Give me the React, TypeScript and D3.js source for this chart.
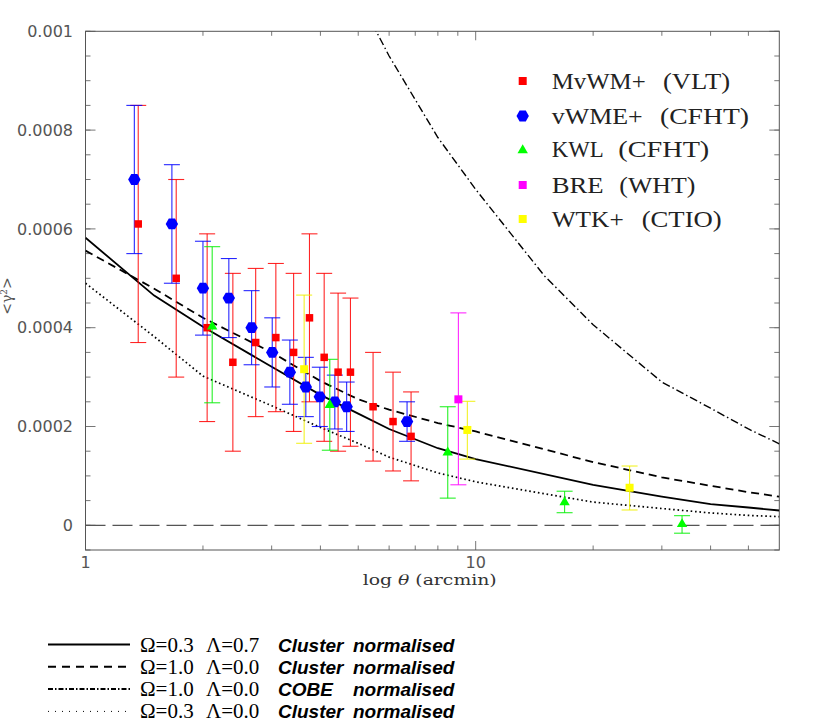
import React from "react";
import * as d3 from "d3";

// ---- data: [theta (arcmin), value, lower bound, upper bound]
const mvwm: number[][] = [
  [1.365, 0.00061, 0.00037, 0.00085],
  [1.708, 0.0005, 0.0003, 0.0007],
  [2.05, 0.0004, 0.00021, 0.00059],
  [2.386, 0.00033, 0.00015, 0.00051],
  [2.73, 0.00037, 0.00022, 0.00052],
  [3.075, 0.00038, 0.00023, 0.00053],
  [3.415, 0.00035, 0.00019, 0.00051],
  [3.75, 0.00042, 0.00025, 0.00059],
  [4.09, 0.00034, 0.00017, 0.00051],
  [4.44, 0.00031, 0.00015, 0.00047],
  [4.776, 0.00031, 0.00016, 0.00046],
  [5.458, 0.00024, 0.00013, 0.00035],
  [6.14, 0.00021, 0.00011, 0.00031],
  [6.83, 0.00018, 0.00009, 0.00027],
];
const vwme: number[][] = [
  [1.334, 0.0007, 0.00055, 0.00085],
  [1.665, 0.00061, 0.00049, 0.00073],
  [2.0, 0.00048, 0.000385, 0.000575],
  [2.33, 0.00046, 0.00038, 0.00054],
  [2.665, 0.0004, 0.000325, 0.000475],
  [3.01, 0.00035, 0.00028, 0.00042],
  [3.34, 0.00031, 0.000245, 0.000375],
  [3.67, 0.00028, 0.00022, 0.00034],
  [3.986, 0.00026, 0.0002, 0.00032],
  [4.355, 0.00025, 0.000195, 0.000304],
  [4.67, 0.00024, 0.00019, 0.00029],
  [6.67, 0.00021, 0.00017, 0.00025],
];
const kwl: number[][] = [
  [2.112, 0.000405, 0.000248, 0.000564],
  [4.228, 0.000246, 0.000152, 0.000336],
  [8.48, 0.00015, 0.000055, 0.00024],
  [16.9, 0.000049, 0.0000255, 0.000069],
  [33.8, 0.000005, -0.000016, 0.0000195],
];
const bre: number[][] = [[9.03, 0.000255, 0.000082, 0.00043]];
const wtk: number[][] = [
  [3.634, 0.000316, 0.000166, 0.000466],
  [9.52, 0.000193, 0.000134, 0.000251],
  [24.8, 0.000076, 0.000031, 0.00012],
];

// ---- model curves
const modelTheta = [1, 1.5, 2, 3, 4, 5, 6, 8, 10, 20, 30, 40, 50, 60];
const lcdmCluster = [0.000582, 0.000465, 0.000402, 0.000321, 0.000264, 0.000226, 0.000195, 0.000156, 0.000134, 0.000082, 0.000058, 0.000043, 0.000036, 0.00003];
const scdmCluster = [0.000556, 0.000479, 0.00042, 0.00035, 0.000292, 0.000255, 0.000234, 0.000207, 0.00019, 0.000128, 0.000097, 0.00008, 0.000067, 0.000058];
const ocdmCluster = [0.00049, 0.000382, 0.000302, 0.000242, 0.000198, 0.000166, 0.000138, 0.000106, 0.000088, 0.000047, 0.000034, 0.000025, 0.00002, 0.0000175];
const cobeTheta = [5, 6, 8, 10, 15, 20, 30, 40, 50, 60];
const scdmCobe = [0.00107, 0.00095, 0.000785, 0.00068, 0.000505, 0.000406, 0.00029, 0.000237, 0.000195, 0.000165];

const xMajor = [1, 10];
const xMinor = [2, 3, 4, 5, 6, 7, 8, 9, 20, 30, 40, 50];
const yMajor = [0, 0.0002, 0.0004, 0.0006, 0.0008, 0.001];
const yMajorLabels = ["0", "0.0002", "0.0004", "0.0006", "0.0008", "0.001"];
const yMinor = d3.range(-0.00005, 0.00100001, 0.00005);

const legendNames = ["MvWM+", "vWME+", "KWL", "BRE", "WTK+"];
const legendTels = ["(VLT)", "(CFHT)", "(CFHT)", "(WHT)", "(CTIO)"];

const modelLegend = [
  { om: "Ω=0.3", la: "Λ=0.7", a: "Cluster", b: "normalised" },
  { om: "Ω=1.0", la: "Λ=0.0", a: "Cluster", b: "normalised" },
  { om: "Ω=1.0", la: "Λ=0.0", a: "COBE", b: "normalised" },
  { om: "Ω=0.3", la: "Λ=0.0", a: "Cluster", b: "normalised" },
];

const W = 830, H = 724;
const L = 85.5, R = 779.3, T = 31.3, B = 550;
// legend layout
const legRowY = [81, 116, 149, 185, 219];
const legNameW = [94, 91, 52, 52, 72];
const legTelX = [663, 660, 618.3, 619.3, 641.7];
const legTelW = [67, 89, 91, 76, 80];

export default function App() {
  const x = d3.scaleLog().domain([1, 60]).range([L, R]);
  const y = d3.scaleLinear().domain([-0.00005, 0.001]).range([B, T]);
  const line = d3.line<[number, number]>().x((d) => x(d[0])).y((d) => y(d[1]));
  const mk = (ts: number[], vs: number[]) => line(ts.map((t, i) => [t, vs[i]]) as [number, number][]) || "";

  const axisCol = "#555";
  const tickCol = "#777";

  const sq = (cx: number, cy: number, s: number, fill: string, key?: any) => (
    <rect key={key} x={cx - s / 2} y={cy - s / 2} width={s} height={s} fill={fill} />
  );
  const hex = (cx: number, cy: number, key?: any) => {
    const rx = 6.2, ry = 5.4;
    const pts = [
      [cx - rx, cy], [cx - rx / 2, cy - ry], [cx + rx / 2, cy - ry],
      [cx + rx, cy], [cx + rx / 2, cy + ry], [cx - rx / 2, cy + ry],
    ].map((p) => p.join(",")).join(" ");
    return <polygon key={key} points={pts} fill="#0000ff" />;
  };
  const tri = (cx: number, cy: number, key?: any) => {
    const w = 5.2, h = 4.2;
    const pts = [[cx, cy - h - 0.5], [cx + w, cy + h], [cx - w, cy + h]].map((p) => p.join(",")).join(" ");
    return <polygon key={key} points={pts} fill="#00ff00" />;
  };

  const errBars = (data: number[][], col: string) =>
    data.map((d, i) => {
      const cx = x(d[0]);
      const y1 = y(d[2]), y2 = y(d[3]);
      return (
        <g key={i} stroke={col} strokeWidth={1.1} strokeOpacity={0.85}>
          <line x1={cx} x2={cx} y1={y1} y2={y2} />
          <line x1={cx - 8} x2={cx + 8} y1={y1} y2={y1} />
          <line x1={cx - 8} x2={cx + 8} y1={y2} y2={y2} />
        </g>
      );
    });

  return (
    <svg width={W} height={H} style={{ position: "absolute", left: 0, top: 0, background: "#fff" }}>
      <defs>
        <clipPath id="plotClip">
          <rect x={L} y={T} width={R - L} height={B - T} />
        </clipPath>
      </defs>

      {/* ticks */}
      <g stroke={tickCol} strokeWidth={1}>
        {xMajor.map((v) => (
          <g key={"xM" + v}>
            <line x1={x(v)} x2={x(v)} y1={B} y2={B - 9} />
            <line x1={x(v)} x2={x(v)} y1={T} y2={T + 9} />
          </g>
        ))}
        {xMinor.map((v) => (
          <g key={"xm" + v}>
            <line x1={x(v)} x2={x(v)} y1={B} y2={B - 4.5} />
            <line x1={x(v)} x2={x(v)} y1={T} y2={T + 4.5} />
          </g>
        ))}
        {yMinor.map((v, i) => (
          <g key={"ym" + i}>
            <line x1={L} x2={L + 5} y1={y(v)} y2={y(v)} />
            <line x1={R} x2={R - 5} y1={y(v)} y2={y(v)} />
          </g>
        ))}
        {yMajor.map((v) => (
          <g key={"yM" + v}>
            <line x1={L} x2={L + 10} y1={y(v)} y2={y(v)} />
            <line x1={R} x2={R - 10} y1={y(v)} y2={y(v)} />
          </g>
        ))}
      </g>
      <rect x={L} y={T} width={R - L} height={B - T} fill="none" stroke={axisCol} strokeWidth={1} />

      {/* tick labels */}
      <g fontFamily="DejaVu Sans" fontSize={16} fill="#555">
        {yMajor.map((v, i) => (
          <text key={"yl" + v} x={73} y={y(v)} dy="0.36em" textAnchor="end">
            {yMajorLabels[i]}
          </text>
        ))}
        {xMajor.map((v) => (
          <text key={"xl" + v} x={x(v)} y={568} textAnchor="middle">
            {v}
          </text>
        ))}
      </g>

      {/* axis titles */}
      <text x={362.7} y={585} fontFamily="DejaVu Serif" fontSize={14.5} fill="#333" textLength={134} lengthAdjust="spacingAndGlyphs">
        log <tspan fontStyle="italic">θ</tspan> (arcmin)
      </text>
      <text transform="translate(12,296) rotate(-90)" textAnchor="middle" fontFamily="DejaVu Serif" fontSize={14} fill="#555">
        {"<γ"}
        <tspan fontSize={9} dy={-5}>2</tspan>
        <tspan dy={5}>{">"}</tspan>
      </text>

      {/* zero line */}
      <line x1={L} x2={R} y1={y(0)} y2={y(0)} stroke="#555" strokeWidth={1.3} strokeDasharray="20,7" />

      {/* model curves */}
      <g clipPath="url(#plotClip)" fill="none" stroke="#000">
        <path d={mk(modelTheta, lcdmCluster)} strokeWidth={1.8} />
        <path d={mk(modelTheta, scdmCluster)} strokeWidth={1.8} strokeDasharray="8,5" />
        <path d={mk(modelTheta, ocdmCluster)} strokeWidth={1.7} strokeDasharray="1.6,2.8" />
        <path d={mk(cobeTheta, scdmCobe)} strokeWidth={1.4} strokeDasharray="8,3,1.5,3" />
      </g>

      {/* error bars */}
      {errBars(mvwm, "#ff0000")}
      {errBars(vwme, "#0000ff")}
      {errBars(kwl, "#00ee00")}
      {errBars(bre, "#ff00ff")}
      {errBars(wtk, "#f0f000")}

      {/* markers */}
      {mvwm.map((d, i) => sq(x(d[0]), y(d[1]), 7.5, "#ff0000", "r" + i))}
      {vwme.map((d, i) => hex(x(d[0]), y(d[1]), "b" + i))}
      {kwl.map((d, i) => tri(x(d[0]), y(d[1]), "g" + i))}
      {bre.map((d, i) => sq(x(d[0]), y(d[1]), 8, "#ff00ff", "m" + i))}
      {wtk.map((d, i) => sq(x(d[0]), y(d[1]), 8, "#ffff00", "yel" + i))}

      {/* in-plot legend */}
      {sq(522.7, legRowY[0], 8, "#ff0000", "lg0")}
      {hex(522.7, legRowY[1], "lg1")}
      {tri(522.7, legRowY[2], "lg2")}
      {sq(522.7, legRowY[3], 8, "#ff00ff", "lg3")}
      {sq(522.7, legRowY[4], 8, "#ffff00", "lg4")}
      <g fontFamily="Liberation Serif" fontSize={23} fill="#222">
        {legendNames.map((n, i) => (
          <g key={n}>
            <text x={551.7} y={legRowY[i] + 8} textLength={legNameW[i]} lengthAdjust="spacingAndGlyphs">
              {n}
            </text>
            <text x={legTelX[i]} y={legRowY[i] + 8} textLength={legTelW[i]} lengthAdjust="spacingAndGlyphs">
              {legendTels[i]}
            </text>
          </g>
        ))}
      </g>

      {/* model legend below */}
      <g stroke="#000" fill="none">
        <line x1={48} x2={130} y1={644.5} y2={644.5} strokeWidth={2} />
        <line x1={48} x2={130} y1={666.8} y2={666.8} strokeWidth={2} strokeDasharray="8,6" />
        <line x1={48} x2={130} y1={689.1} y2={689.1} strokeWidth={2} strokeDasharray="5,2,1.5,2" />
        <line x1={48} x2={130} y1={711.4} y2={711.4} strokeWidth={1} strokeDasharray="1,6" />
      </g>
      {modelLegend.map((m, i) => {
        const by = 651.5 + i * 22.3;
        return (
          <g key={"ml" + i}>
            <text x={140} y={by} fontFamily="Liberation Serif" fontSize={21} fill="#000">{m.om}</text>
            <text x={206} y={by} fontFamily="Liberation Serif" fontSize={21} fill="#000">{m.la}</text>
            <text x={278} y={by} fontFamily="Liberation Sans" fontSize={19} fontWeight="bold" fontStyle="italic" fill="#000">{m.a}</text>
            <text x={353} y={by} fontFamily="Liberation Sans" fontSize={19} fontWeight="bold" fontStyle="italic" fill="#000">{m.b}</text>
          </g>
        );
      })}
    </svg>
  );
}
